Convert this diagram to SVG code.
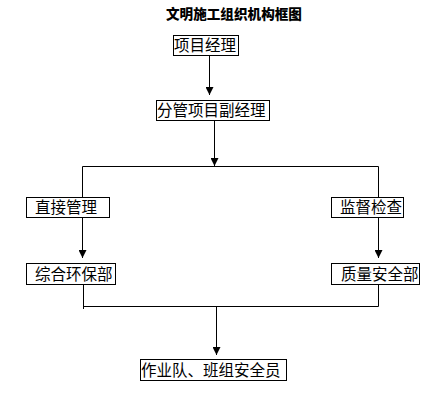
<svg xmlns="http://www.w3.org/2000/svg" width="445" height="411" viewBox="0 0 445 411">
<defs>
<style>
.box{fill:#fff;stroke:#000;stroke-width:1}
.t{font-family:"Noto Sans CJK SC","Noto Sans",sans-serif;font-size:15.5px;fill:#000}
.title{font-family:"Noto Sans CJK SC",sans-serif;font-size:13.6px;font-weight:900;fill:#000}
.ln{stroke:#000;stroke-width:1;fill:none}
</style>
<marker id="ah" viewBox="0 0 8 8" refX="8" refY="4" markerWidth="8" markerHeight="8" orient="auto" markerUnits="userSpaceOnUse">
<path d="M0,0 L8,4 L0,8 Z" fill="#000"/>
</marker>
</defs>
<rect width="445" height="411" fill="#fff"/>
<text class="title" x="166" y="19">文明施工组织机构框图</text>
<g id="connectors">
<line class="ln" x1="209.5" y1="55" x2="209.5" y2="95" marker-end="url(#ah)"/>
<line class="ln" x1="214.5" y1="120" x2="214.5" y2="166" marker-end="url(#ah)"/>
<polyline class="ln" points="82.5,197 82.5,166.5 378.5,166.5 378.5,197"/>
<line class="ln" x1="82.5" y1="217" x2="82.5" y2="258" marker-end="url(#ah)"/>
<line class="ln" x1="378.5" y1="217" x2="378.5" y2="258" marker-end="url(#ah)"/>
<line class="ln" x1="83.5" y1="284" x2="83.5" y2="309"/>
<polyline class="ln" points="83.5,306.5 378.5,306.5 378.5,284"/>
<line class="ln" x1="216.5" y1="306" x2="216.5" y2="355" marker-end="url(#ah)"/>
</g>
<g id="n1"><rect class="box" x="173.5" y="35.5" width="65" height="20"/><text class="t" x="174" y="51">项目经理</text></g>
<g id="n2"><rect class="box" x="156.5" y="100.5" width="113" height="20"/><text class="t" x="157" y="116">分管项目副经理</text></g>
<g id="n3"><rect class="box" x="26.5" y="197.5" width="83" height="20"/><text class="t" x="35" y="213">直接管理</text></g>
<g id="n4"><rect class="box" x="331.5" y="197.5" width="72" height="20"/><text class="t" x="340" y="213">监督检查</text></g>
<g id="n5"><rect class="box" x="26.5" y="263.5" width="89" height="21"/><text class="t" x="35" y="280">综合环保部</text></g>
<g id="n6"><rect class="box" x="331.5" y="263.5" width="88" height="21"/><text class="t" x="341" y="280">质量安全部</text></g>
<g id="n7"><rect class="box" x="140.5" y="359.5" width="146" height="21"/><text class="t" x="141" y="376">作业队、班组安全员</text></g>
</svg>
